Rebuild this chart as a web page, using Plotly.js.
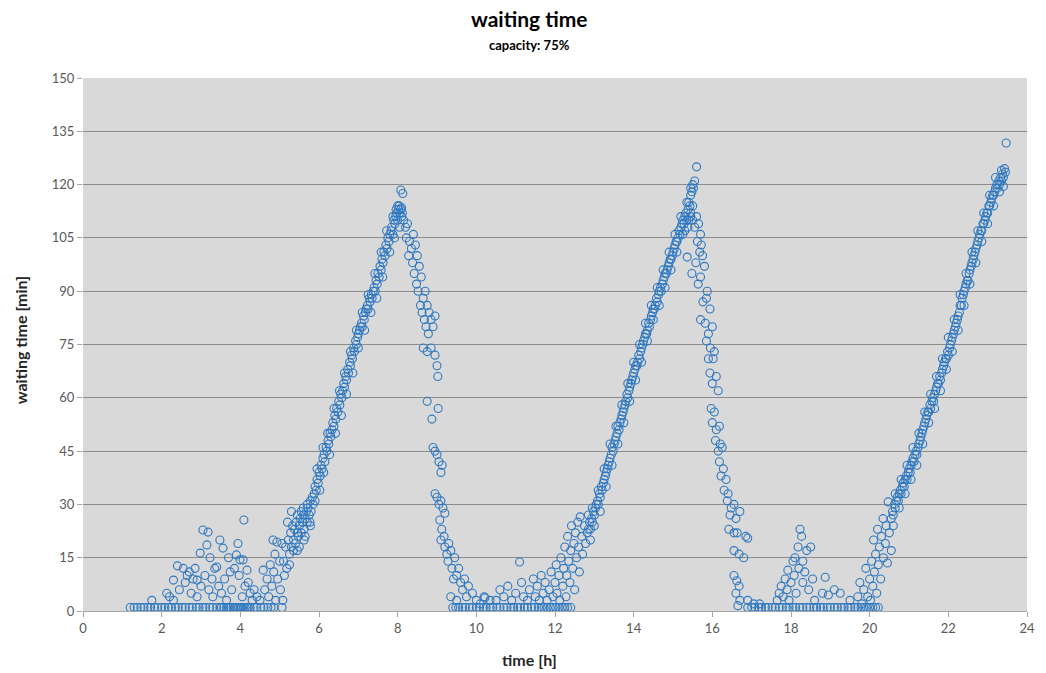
<!DOCTYPE html>
<html>
<head>
<meta charset="utf-8">
<script src="https://cdn.plot.ly/plotly-3.0.1.min.js"></script>
<style>html,body{margin:0;padding:0;background:#fff;}#chart{width:1046px;height:673px;}</style>
</head>
<body>
<div id="chart"></div>
<script>
// ---- data: [time h, waiting time min] ----
const baseline1X = [1.20,1.30,1.38,1.47,1.55,1.65,1.72,1.82,1.90,2.00,2.08,2.17,2.25,2.35,2.42,2.52,2.60,2.70,2.78,2.88,2.95,3.05,3.12,3.22,3.30,3.40,3.48,3.52,3.58,3.65,3.70,3.75,3.82,3.87,3.92,3.96,4.00,4.03,4.08,4.12,4.17,4.20,4.25,4.35,4.42,4.52,4.60,4.70,4.78,4.85];
const baseline2X = [9.40,9.48,9.55,9.65,9.72,9.82,9.90,10.00,10.08,10.18,10.25,10.35,10.42,10.52,10.60,10.70,10.78,10.88,10.95,11.05,11.12,11.22,11.30,11.40,11.48,11.58,11.65,11.72,11.80,11.88,11.95,12.02,12.10,12.18,12.25,12.32,12.40];
const baseline3X = [16.90,17.00,17.08,17.18,17.25,17.35,17.42,17.52,17.60,17.70,17.78,17.88,17.95,18.05,18.12,18.22,18.30,18.40,18.48,18.58,18.65,18.75,18.82,18.92,19.00,19.10,19.18,19.28,19.35,19.45,19.52,19.62,19.70,19.78,19.85,19.92,20.00,20.08,20.15,20.22];
const baselineY = 1;

const scatter1 = [[1.75,3],[2.13,5],[2.2,4],[2.3,3],[2.3,8.7],[2.4,12.7],[2.45,6],[2.55,12],[2.6,8],[2.65,10],[2.7,11],[2.75,5],[2.8,9],[2.85,12],[2.9,8.7],[2.9,4],[2.98,16.3],[3.0,7],[3.05,22.8],[3.1,10],[3.15,18.6],[3.18,22.2],[3.2,6],[3.23,15],[3.28,9],[3.3,4],[3.35,12],[3.4,12.4],[3.45,7],[3.48,20],[3.52,5],[3.56,17.7],[3.6,9],[3.65,3],[3.7,15],[3.74,11],[3.78,6],[3.85,12],[3.9,15.8],[3.94,19],[3.97,10],[3.99,14.4],[4.05,4],[4.07,14.4],[4.09,25.6],[4.12,7],[4.17,11.5],[4.2,8],[4.25,5],[4.3,3],[4.35,6],[4.42,4],[4.5,3],[4.58,11.5],[4.62,6],[4.68,9],[4.72,4],[4.76,13],[4.8,7],[4.83,20],[4.85,11],[4.88,16],[4.9,3],[4.93,19.4],[4.95,9],[5.0,14],[5.02,6],[5.06,19],[5.08,3],[5.06,1],[5.12,10],[5.2,25],[5.25,13],[5.3,28],[5.35,17],[5.45,27],[5.5,18],[5.6,29],[5.65,21],[5.77,25]];

const ramp1 = [[5.10,14],[5.15,18],[5.18,12],[5.22,20],[5.25,16],[5.28,22],[5.30,18],[5.33,24],[5.35,20],[5.38,23],[5.40,19],[5.42,25],[5.45,22],[5.48,21],[5.50,24],[5.52,26],[5.55,22],[5.58,25],[5.60,27],[5.62,23],[5.65,26],[5.68,28],[5.70,25],[5.72,29],[5.75,27],[5.78,31],[5.80,28],[5.83,32],[5.85,30],[5.88,33],[5.90,35],[5.93,34],[5.95,37],[5.98,36],[6.00,39],[6.03,38],[6.05,41],[6.08,40],[6.10,43],[6.13,44],[6.15,42],[6.18,46],[6.20,45],[6.23,48],[6.25,47],[6.28,50],[6.30,49],[6.33,51],[6.35,53],[6.38,52],[6.40,55],[6.43,54],[6.45,57],[6.48,56],[6.50,59],[6.53,58],[6.55,61],[6.58,60],[6.60,62],[6.63,64],[6.65,63],[6.68,66],[6.70,65],[6.73,68],[6.75,67],[6.78,70],[6.80,69],[6.83,72],[6.85,71],[6.88,74],[6.90,73],[6.93,76],[6.95,75],[6.98,77],[7.00,78],[7.03,79],[7.05,80],[7.08,81],[7.10,80],[7.13,83],[7.15,82],[7.18,84],[7.20,85],[7.23,86],[7.25,85],[7.28,88],[7.30,87],[7.33,89],[7.35,88],[7.38,90],[7.40,91],[7.43,90],[7.45,93],[7.48,92],[7.50,95],[7.53,94],[7.55,97],[7.58,96],[7.60,99],[7.63,98],[7.65,101],[7.68,100],[7.70,103],[7.73,102],[7.75,105],[7.78,104],[7.80,106],[7.83,107],[7.85,108],[7.88,106],[7.90,110],[7.93,109],[7.95,111],[7.98,112],[8.00,110],[8.02,113],[8.05,112],[8.08,113],[8.10,111],[8.12,112],[8.08,118.5],[8.13,117.5]];
const ramp1Spread = [[5.45,17],[5.55,28],[5.62,20],[5.70,30],[5.78,24],[5.90,31],[5.95,40],[6.02,34],[6.10,46],[6.12,39],[6.22,50],[6.27,44],[6.38,57],[6.42,50],[6.52,62],[6.57,55],[6.65,67],[6.70,61],[6.80,73],[6.86,67],[6.95,79],[7.00,74],[7.10,84],[7.16,79],[7.25,89],[7.32,84],[7.42,95],[7.47,88],[7.58,101],[7.62,94],[7.72,107],[7.80,101],[7.88,111],[7.92,105],[8.00,114],[8.05,108],[8.10,113.5],[7.96,113],[8.04,114]];

const decay1 = [[8.15,110],[8.2,108],[8.22,105],[8.25,109],[8.3,104],[8.35,102],[8.28,100],[8.4,106],[8.45,103],[8.38,98],[8.5,100],[8.42,95],[8.55,97],[8.48,92],[8.6,94],[8.52,90],[8.65,88],[8.58,86],[8.7,90],[8.62,84],[8.75,86],[8.68,82],[8.8,84],[8.72,80],[8.85,82],[8.78,78],[8.9,80],[8.95,83],[8.65,74],[8.75,73],[8.85,74],[8.95,72],[9.0,69],[9.02,66],[8.75,59],[9.03,57],[8.87,54],[8.9,46],[8.95,45],[9.0,44],[9.05,42],[9.1,39],[9.13,41],[8.95,33],[9.0,32],[9.05,30],[9.1,31],[9.15,29],[9.2,27.5],[9.07,25.6],[9.12,23],[9.18,21],[9.1,20],[9.2,18],[9.25,16],[9.3,19],[9.35,17],[9.28,14],[9.38,12],[9.45,15],[9.5,10],[9.42,9],[9.55,12],[9.6,8],[9.7,9],[9.65,6],[9.8,7],[9.9,5],[9.75,4],[9.35,4],[9.5,3],[10.0,3],[10.1,2],[10.2,4]];

const scatter2 = [[10.22,3.7],[10.35,3],[10.5,3],[10.6,6],[10.7,4],[10.8,7],[10.9,3],[11.0,5],[11.1,13.8],[11.15,8],[11.2,4],[11.3,3],[11.35,6],[11.45,9],[11.5,4],[11.55,7],[11.6,3],[11.65,10],[11.7,5],[11.75,8],[11.8,3],[11.85,6],[11.9,11],[11.95,4],[12.0,8],[12.03,13],[12.05,5],[12.1,10],[12.12,3],[12.15,15],[12.2,7],[12.22,12],[12.25,18],[12.28,4],[12.3,10],[12.32,21],[12.35,14],[12.38,8],[12.4,17],[12.42,24],[12.45,12],[12.48,19],[12.5,6],[12.52,22],[12.55,15],[12.58,25],[12.6,18],[12.62,11],[12.64,26.5],[12.68,21],[12.7,16],[12.75,24],[12.78,19],[12.82,22],[12.85,27]];

const ramp2 = [[12.85,23],[12.88,25],[12.90,23],[12.93,26],[12.95,25],[12.98,28],[13.00,27],[13.03,29],[13.05,30],[13.08,31],[13.10,30],[13.13,33],[13.15,32],[13.18,35],[13.20,34],[13.23,36],[13.25,37],[13.28,38],[13.30,39],[13.33,40],[13.35,41],[13.38,42],[13.40,43],[13.43,44],[13.45,46],[13.48,45],[13.50,47],[13.53,48],[13.55,49],[13.58,50],[13.60,52],[13.63,51],[13.65,53],[13.68,54],[13.70,55],[13.73,56],[13.75,57],[13.78,58],[13.80,59],[13.83,61],[13.85,60],[13.88,62],[13.90,63],[13.93,64],[13.95,65],[13.98,66],[14.00,67],[14.03,68],[14.05,69],[14.08,69],[14.10,70],[14.13,72],[14.15,71],[14.18,73],[14.20,74],[14.23,75],[14.25,76],[14.28,77],[14.30,78],[14.33,78],[14.35,79],[14.38,81],[14.40,80],[14.43,82],[14.45,83],[14.48,84],[14.50,85],[14.53,85],[14.55,86],[14.58,88],[14.60,87],[14.63,89],[14.65,90],[14.68,91],[14.70,90],[14.73,92],[14.75,93],[14.78,94],[14.80,95],[14.83,95],[14.85,96],[14.88,97],[14.90,98],[14.93,99],[14.95,99],[14.98,100],[15.00,101],[15.03,102],[15.05,103],[15.08,104],[15.10,104],[15.13,105],[15.15,107],[15.18,106],[15.20,108],[15.23,109],[15.25,110],[15.28,109],[15.30,111],[15.33,112],[15.35,110],[15.38,113],[15.40,115],[15.43,114],[15.45,117],[15.48,118],[15.50,120],[15.52,119],[15.55,121],[15.60,125],[15.38,108],[15.45,111]];
const ramp2Spread = [[12.90,20],[12.95,29],[13.00,24],[13.10,34],[13.15,28],[13.25,40],[13.30,35],[13.40,47],[13.45,41],[13.55,52],[13.60,47],[13.70,58],[13.75,53],[13.85,64],[13.90,59],[14.00,70],[14.05,65],[14.15,75],[14.20,70],[14.30,81],[14.35,76],[14.45,86],[14.50,82],[14.60,91],[14.65,86],[14.75,96],[14.80,91],[14.90,101],[14.95,96],[15.05,106],[15.10,101],[15.20,111],[15.25,106],[15.35,115],[15.40,110],[15.45,119],[15.50,114],[15.30,107]];

const decay2 = [[15.45,112],[15.5,110],[15.55,108],[15.6,111],[15.65,109],[15.7,106],[15.62,104],[15.68,101],[15.72,103],[15.36,99.6],[15.48,95],[15.58,98],[15.75,100],[15.8,97],[15.7,94],[15.64,92],[15.87,90],[15.76,87],[15.85,88],[15.94,85],[15.7,82],[15.82,81],[15.9,78],[16.0,80],[15.85,76],[15.95,74],[16.05,73],[15.9,71],[16.02,71],[15.94,67],[16.1,66],[16.0,64],[16.15,62],[15.97,57],[16.05,56],[16.0,53],[16.1,51],[16.18,52],[16.08,48],[16.2,47],[16.15,45],[16.25,46],[16.18,42],[16.28,40],[16.22,38],[16.35,37],[16.3,34],[16.4,33],[16.38,31],[16.48,29],[16.55,30],[16.45,27],[16.6,26],[16.7,28],[16.42,23],[16.55,22],[16.63,22],[16.85,21],[16.9,20.5],[16.55,17],[16.68,16],[16.8,15],[16.55,10],[16.62,8.5],[16.68,7],[16.6,5],[16.7,3],[16.65,1.5],[16.9,3],[17.05,2],[17.2,2]];

const scatter3 = [[17.65,3],[17.7,5],[17.75,7],[17.8,4],[17.85,9],[17.9,6],[17.92,11.5],[17.95,3],[18.0,8],[18.05,14],[18.08,10],[18.1,15],[18.13,5],[18.18,18],[18.2,12],[18.23,23],[18.27,21],[18.3,8],[18.3,14],[18.35,11],[18.4,17],[18.45,6],[18.5,18],[18.55,9],[18.6,3],[18.87,9.5],[18.8,5],[18.95,4.5],[19.1,6],[19.25,5],[19.5,3],[19.7,4],[19.75,8],[19.8,2],[19.85,6],[19.9,12],[19.95,4],[20.0,9],[20.02,3],[20.05,14],[20.08,7],[20.1,20],[20.12,11],[20.15,16],[20.18,5],[20.2,23],[20.22,13],[20.25,18],[20.28,9],[20.3,21],[20.34,26],[20.35,15],[20.4,19],[20.42,24],[20.45,13.5],[20.47,30.7],[20.5,22],[20.55,17]];

const ramp3 = [[20.55,26],[20.58,28],[20.60,27],[20.63,30],[20.65,29],[20.68,31],[20.70,32],[20.73,31],[20.75,33],[20.78,34],[20.80,33],[20.83,35],[20.85,36],[20.88,35],[20.90,37],[20.93,38],[20.95,37],[20.98,39],[21.00,40],[21.03,39],[21.05,41],[21.08,42],[21.10,43],[21.13,42],[21.15,44],[21.18,45],[21.20,44],[21.23,46],[21.25,47],[21.28,48],[21.30,49],[21.33,50],[21.35,51],[21.38,52],[21.40,53],[21.43,54],[21.45,55],[21.48,56],[21.50,56],[21.53,58],[21.55,57],[21.58,59],[21.60,60],[21.63,59],[21.65,61],[21.68,62],[21.70,63],[21.73,64],[21.75,64],[21.78,66],[21.80,65],[21.83,67],[21.85,68],[21.88,69],[21.90,70],[21.93,71],[21.95,71],[21.98,73],[22.00,72],[22.03,74],[22.05,75],[22.08,76],[22.10,77],[22.13,78],[22.15,79],[22.18,80],[22.20,81],[22.23,82],[22.25,83],[22.28,84],[22.30,86],[22.33,86],[22.35,88],[22.38,89],[22.40,90],[22.43,91],[22.45,92],[22.48,93],[22.50,93],[22.53,95],[22.55,96],[22.58,97],[22.60,98],[22.63,99],[22.65,100],[22.68,101],[22.70,102],[22.73,103],[22.75,104],[22.78,105],[22.80,106],[22.83,107],[22.85,107],[22.88,109],[22.90,109],[22.93,110],[22.95,111],[22.98,112],[23.00,112],[23.03,114],[23.05,114],[23.08,115],[23.10,116],[23.13,117],[23.15,117],[23.18,118],[23.20,119],[23.23,120],[23.25,119],[23.28,121],[23.30,120],[23.33,122],[23.35,121],[23.38,123],[23.40,122],[23.43,124.5],[23.45,123.5],[23.47,131.7]];
const ramp3Spread = [[20.60,24],[20.65,33],[20.75,29],[20.80,37],[20.90,33],[20.95,41],[21.05,37],[21.10,46],[21.20,41],[21.25,50],[21.35,47],[21.40,56],[21.50,53],[21.55,61],[21.65,57],[21.70,66],[21.80,62],[21.85,71],[21.95,68],[22.00,77],[22.10,73],[22.15,82],[22.25,79],[22.30,89],[22.40,86],[22.45,95],[22.55,92],[22.60,101],[22.70,98],[22.75,107],[22.85,104],[22.90,112],[23.00,109],[23.05,117],[23.15,114],[23.20,122],[23.30,118],[23.35,124],[23.40,119.5]];

const xTickVals = [0,2,4,6,8,10,12,14,16,18,20,22,24];
const yTickVals = [0,15,30,45,60,75,90,105,120,135,150];

// ---- assemble ----
const pairs = [].concat(
  baseline1X.map(x => [x, baselineY]),
  baseline2X.map(x => [x, baselineY]),
  baseline3X.map(x => [x, baselineY]),
  scatter1, ramp1, ramp1Spread, decay1, scatter2, ramp2, ramp2Spread, decay2, scatter3, ramp3, ramp3Spread
);

const trace = {
  type: 'scatter',
  mode: 'markers',
  x: pairs.map(p => p[0]),
  y: pairs.map(p => p[1]),
  marker: {
    symbol: 'circle-open',
    size: 8,
    color: '#2e78c2',
    line: {width: 1.1, color: '#2e78c2'}
  },
  hoverinfo: 'x+y',
  showlegend: false
};

const FONT = 'Lato, "Open Sans", sans-serif';

const layout = {
  width: 1046,
  height: 673,
  margin: {l: 83, r: 19, t: 78, b: 62},
  paper_bgcolor: '#ffffff',
  plot_bgcolor: '#d9d9d9',
  font: {family: FONT, color: '#595959'},
  xaxis: {
    range: [0, 24],
    tickvals: xTickVals,
    ticks: 'outside',
    ticklen: 5,
    tickcolor: '#a6a6a6',
    showline: true,
    linecolor: '#a6a6a6',
    linewidth: 1,
    showgrid: false,
    zeroline: false,
    tickfont: {size: 13, color: '#595959', family: FONT},
    fixedrange: true
  },
  yaxis: {
    range: [0, 150],
    tickvals: yTickVals,
    ticks: 'outside',
    ticklen: 5,
    tickcolor: '#a6a6a6',
    showline: false,
    showgrid: true,
    gridcolor: '#8c8c8c',
    gridwidth: 1,
    zeroline: false,
    tickfont: {size: 13, color: '#595959', family: FONT},
    fixedrange: true
  },
  annotations: [
    {text: 'waiting time', xref: 'paper', yref: 'paper', x: 0.4735, y: 1.1107,
     xanchor: 'center', yanchor: 'middle', showarrow: false,
     font: {family: FONT, size: 21, color: '#000000', weight: 'bold'}},
    {text: 'capacity: 75%', xref: 'paper', yref: 'paper', x: 0.4735, y: 1.0619,
     xanchor: 'center', yanchor: 'middle', showarrow: false,
     font: {family: FONT, size: 13, color: '#000000', weight: 'bold'}},
    {text: 'time [h]', xref: 'paper', yref: 'paper', x: 0.4735, y: -0.0919,
     xanchor: 'center', yanchor: 'middle', showarrow: false,
     font: {family: FONT, size: 16, color: '#262626', weight: 'bold'}},
    {text: 'waiting time [min]', xref: 'paper', yref: 'paper', x: -0.0667, y: 0.508,
     xanchor: 'center', yanchor: 'middle', showarrow: false, textangle: -90,
     font: {family: FONT, size: 16, color: '#262626', weight: 'bold'}}
  ]
};

Plotly.newPlot('chart', [trace], layout, {displayModeBar: false, staticPlot: true});
</script>
</body>
</html>
